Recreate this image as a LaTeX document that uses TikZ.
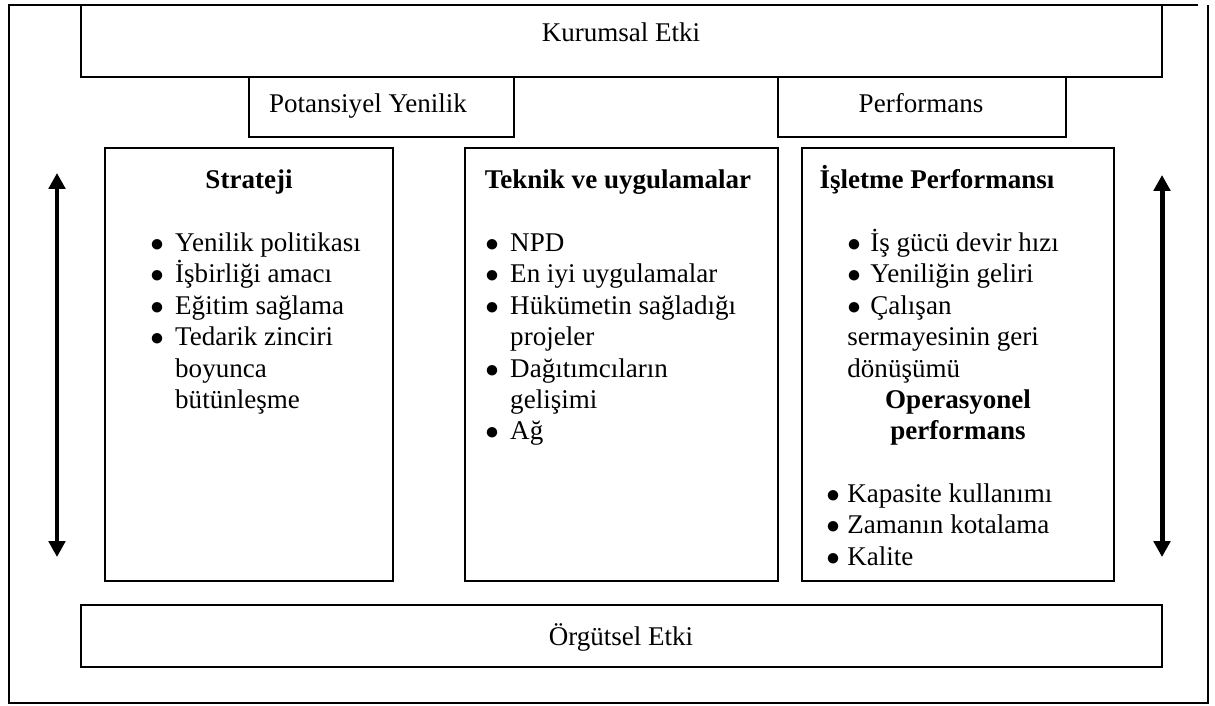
\documentclass[tikz,border=0pt]{standalone}
\usepackage{fontspec}
\setmainfont{Liberation Serif}
\usetikzlibrary{positioning, fit, arrows.meta}
\newcommand{\fs}{\fontsize{12}{13.95}\selectfont}
\newcommand{\tl}{\rule{0pt}{12pt}}
\newcommand{\itm}[1]{\makebox[#1][l]{$\bullet$}}

\begin{document}
\begin{tikzpicture}[
      x=0.444pt, y=-0.444pt,
      box/.style={draw, line width=0.8pt, inner sep=0pt},
      txt/.style={anchor=base, inner sep=0pt, font=\fs},
      head/.style={anchor=base, inner sep=0pt, font=\fs\bfseries},
      lst/.style={anchor=north west, inner sep=0pt, align=left, font=\fs},
      arr/.style={<->, >={Triangle[width=7.2pt, length=7pt]}, line width=2.2pt},
    ]
    \useasboundingbox (0,0) rectangle (1215,705);
    % outer frame
    \draw[line width=0.8pt] (1198,5) -- (9,5) -- (9,703) -- (1208,703) -- (1208,5);
    % top boxes
    \node[box, fit={(81,5) (1162,77)}] (kur) {};
    \node[box, fit={(249,77) (514,137)}] (pot) {};
    \node[box, fit={(778,77) (1066,137)}] (perf) {};
    \node[txt] (kurt) at (621,42) {Kurumsal Etki};
    \node[txt] (pott) at (368,113) {Potansiyel Yenilik};
    \node[txt] (perft) at (921,113) {Performans};
    % middle boxes
    \node[box, fit={(105,148) (393,581)}] (str) {};
    \node[box, fit={(465,148) (778,581)}] (tek) {};
    \node[box, fit={(802,148) (1114,581)}] (isl) {};
    \node[head] (strh) at (249,188) {Strateji};
    \node[head] (tekh) at (618,188) {Teknik ve uygulamalar};
    \node[head] (islh) at (937,188) {İşletme Performansı};
    \node[lst] (strl) at (150,224) {\tl\itm{11pt}Yenilik politikası\\
      \itm{11pt}İşbirliği amacı\\ \itm{11pt}Eğitim sağlama\\
      \itm{11pt}Tedarik zinciri\\ \hspace*{11pt}boyunca\\ \hspace*{11pt}bütünleşme};
    \node[lst] (tekl) at (485,224) {\tl\itm{11pt}NPD\\
      \itm{11pt}En iyi uygulamalar\\ \itm{11pt}Hükümetin sağladığı\\
      \hspace*{11pt}projeler\\ \itm{11pt}Dağıtımcıların\\
      \hspace*{11pt}gelişimi\\ \itm{11pt}Ağ};
    \node[lst] (isll) at (847,224) {\tl\itm{10.2pt}İş gücü devir hızı\\
      \itm{10.2pt}Yeniliğin geliri\\ \itm{10.2pt}Çalışan\\
      sermayesinin geri\\ dönüşümü};
    \node[lst, anchor=north, align=center, font=\fs\bfseries] (oph) at (958,381)
      {\tl Operasyonel\\ performans};
    \node[lst] (opl) at (826,475) {\tl\itm{9.3pt}Kapasite kullanımı\\
      \itm{9.3pt}Zamanın kotalama\\ \itm{9.3pt}Kalite};
    % bottom box
    \node[box, fit={(81,605) (1162,667)}] (org) {};
    \node[txt] (orgt) at (621,645) {Örgütsel Etki};
    % arrows
    \coordinate (lt) at (57,173);
    \coordinate (lb) at (57,557);
    \coordinate (rt) at (1162,175);
    \coordinate (rb) at (1162,557);
    \draw[arr] (lb) -- (lt);
    \draw[arr] (rb) -- (rt);
  \end{tikzpicture}
\end{document}
